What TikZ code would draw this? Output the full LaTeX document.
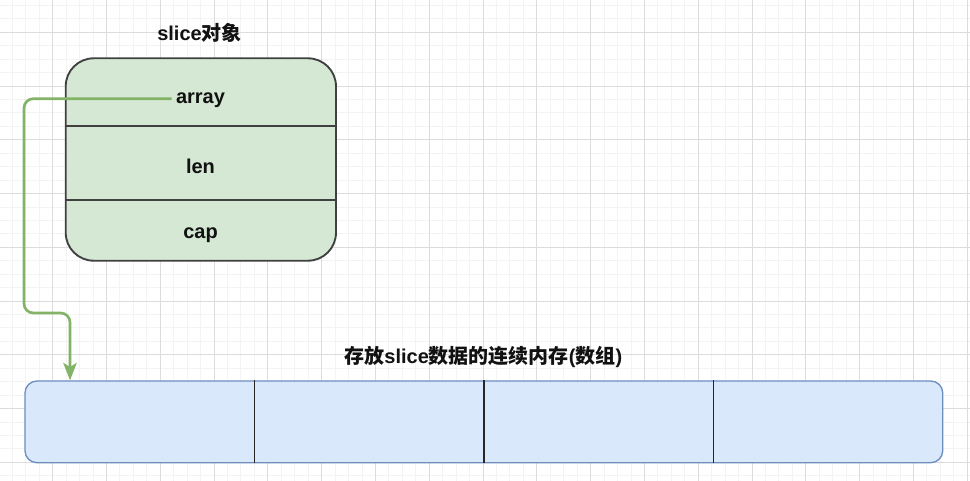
\documentclass[tikz,border=0pt]{standalone}
\usepackage{fontspec}
\setmainfont{Liberation Sans}
\newfontfamily\cjk{Noto Sans CJK SC}
\usetikzlibrary{arrows.meta}
\definecolor{gfill}{HTML}{D5E8D4}
\definecolor{gline}{HTML}{82B366}
\definecolor{bfill}{HTML}{DAE8FC}
\definecolor{bline}{HTML}{6C8EBF}
\definecolor{gridmin}{HTML}{F3F3F3}
\definecolor{gridmaj}{HTML}{DCDCDC}
\definecolor{boxline}{HTML}{404040}
\definecolor{txt}{HTML}{111111}
\tikzset{
  lbl/.style={inner sep=0pt, anchor=base, text=txt, font=\bfseries\fontsize{15}{18}\selectfont},
  objbox/.style={draw=boxline, line width=1.4pt, fill=gfill, rounded corners=21pt, inner sep=0pt},
  objdiv/.style={draw=boxline, line width=1.3pt},
  membox/.style={draw=bline, line width=1pt, fill=bfill, rounded corners=9pt, inner sep=0pt},
  memdiv/.style={draw=black!85, line width=1.1pt},
  conn/.style={draw=gline, line width=2pt, rounded corners=7pt, -{Stealth[length=13pt,width=10pt,inset=3pt]}},
  gridminor/.style={draw=gridmin, line width=0.75pt},
  gridmajor/.style={draw=gridmaj, line width=0.9pt}
}
\begin{document}
\begin{tikzpicture}[x=0.75pt,y=-0.75pt]
\useasboundingbox (0,0) rectangle (970,481);
\fill[white] (0,0) rectangle (970,481);
% grid
\foreach \i in {-3,...,68}{
  \pgfmathsetmacro{\gx}{floor(52.7+13.45*\i)+0.5}
  \draw[gridminor] (\gx,0) -- (\gx,481);
}
\foreach \j in {-2,...,33}{
  \pgfmathsetmacro{\gy}{floor(32.3+13.44*\j)+0.5}
  \draw[gridminor] (0,\gy) -- (970,\gy);
}
\foreach \i in {0,...,17}{
  \pgfmathsetmacro{\gx}{floor(52.7+53.8*\i)+0.5}
  \draw[gridmajor] (\gx,0) -- (\gx,481);
}
\foreach \j in {0,...,8}{
  \pgfmathsetmacro{\gy}{floor(32.3+53.76*\j)+0.5}
  \draw[gridmajor] (0,\gy) -- (970,\gy);
}
% slice object
\node[lbl] (t1) at (199.5,40.7) {slice{\cjk 对象}};
\node[objbox, minimum width=202.7pt, minimum height=151.8pt] (obj) at (200.85,159.5) {};
\coordinate (d1) at (0,126.3);
\coordinate (d2) at (0,200.3);
\draw[objdiv] (obj.west |- d1) -- (obj.east |- d1);
\draw[objdiv] (obj.west |- d2) -- (obj.east |- d2);
\node[lbl] (arr) at (200.5,103.3) {array};
\node[lbl] (len) at (200.5,173.3) {len};
\node[lbl] (cap) at (200.5,238.3) {cap};
% memory
\node[lbl] (t2) at (483.3,363.3) {{\cjk 存放}slice{\cjk 数据的连续内存}({\cjk 数组})};
\node[membox, minimum width=688.3pt, minimum height=61.3pt] (mem) at (483.85,421.85) {};
\foreach \x [count=\k] in {254.5,484,713.5}{
  \coordinate (m\k) at (\x,0);
  \draw[memdiv] (mem.north -| m\k) -- (mem.south -| m\k);
}
% connector
\coordinate (src) at (171.7,98.7);
\coordinate (ax) at (70,0);
\draw[conn] (src) -- (24,98.7) -- (24,313) -- (70,313) -- (mem.north -| ax);
\end{tikzpicture}
\end{document}
